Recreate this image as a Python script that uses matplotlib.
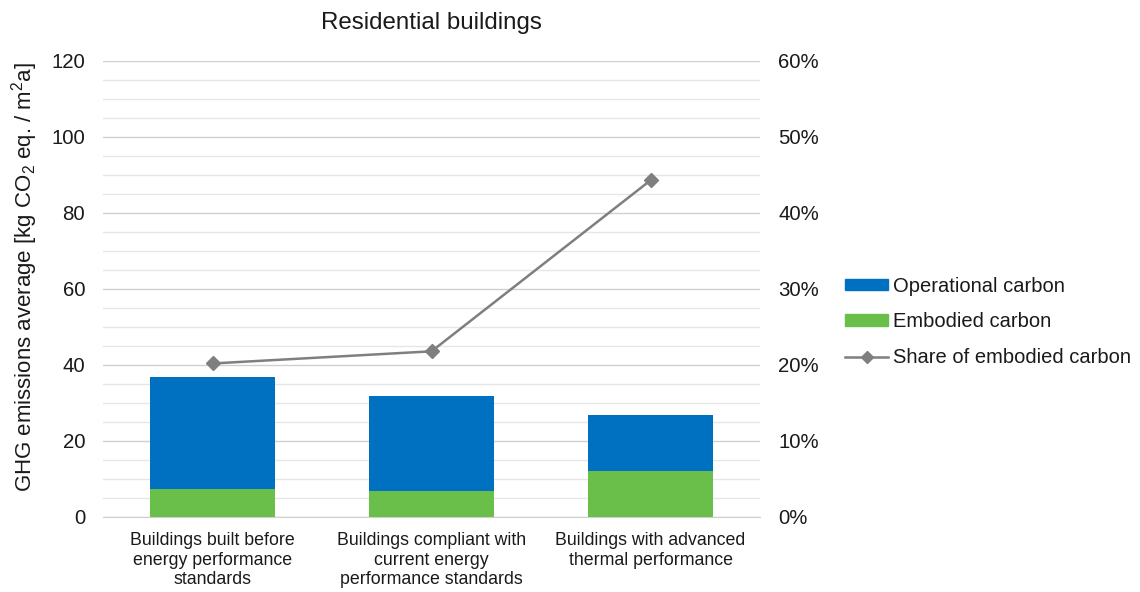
import matplotlib
matplotlib.use("Agg")
import matplotlib.pyplot as plt
from matplotlib.ticker import MultipleLocator, PercentFormatter
from matplotlib.patches import Patch
from matplotlib.lines import Line2D

plt.rcParams["font.family"] = ["Liberation Sans", "DejaVu Sans"]
plt.rcParams["mathtext.fontset"] = "custom"
plt.rcParams["mathtext.rm"] = "Liberation Sans"
plt.rcParams["mathtext.it"] = "Liberation Sans:italic"

categories = [
    "Buildings built before\nenergy performance\nstandards",
    "Buildings compliant with\ncurrent energy\nperformance standards",
    "Buildings with advanced\nthermal performance",
]
embodied = [7.4, 6.8, 12.1]
operational = [29.4, 25.1, 14.7]
share_embodied = [20.2, 21.8, 44.3]  # percent

blue = "#0070C0"
green = "#6ABF4B"
gray = "#7F7F7F"
text_color = "#1A1A1A"

fig = plt.figure(figsize=(11.4, 5.92), dpi=100)
ax = fig.add_axes([0.0904, 0.1267, 0.5763, 0.7703])
ax2 = ax.twinx()

x = list(range(len(categories)))
ax.bar(x, embodied, width=0.57, color=green, zorder=3)
ax.bar(x, operational, width=0.57, bottom=embodied, color=blue, zorder=3)

ax.set_xlim(-0.5, len(categories) - 0.5)
ax.set_ylim(0, 120)
ax.yaxis.set_major_locator(MultipleLocator(20))
ax.yaxis.set_minor_locator(MultipleLocator(5))
ax.grid(axis="y", which="minor", color="#E6E6E6", linewidth=1.0, zorder=0)
ax.grid(axis="y", which="major", color="#D0D0D0", linewidth=1.0, zorder=0)
ax.set_axisbelow(True)

for s in ["top", "right", "left"]:
    ax.spines[s].set_visible(False)
ax.spines["bottom"].set_color("#D0D0D0")
ax.tick_params(axis="both", which="both", length=0, colors=text_color)
ax.tick_params(axis="y", labelsize=14.7, pad=13)
ax.set_xticks(x)
ax.set_xticklabels(categories, fontsize=12.8, linespacing=1.2)
ax.tick_params(axis="x", pad=11)
ax.set_ylabel("GHG emissions average [kg CO$_2$ eq. / m$^2$a]", fontsize=16,
              color=text_color)
ax.yaxis.set_label_coords(-0.0958, 0.526)

ax2.plot(x, share_embodied, color=gray, linewidth=1.8, marker="D", markersize=7, zorder=4)
ax2.set_ylim(0, 60)
ax2.yaxis.set_major_locator(MultipleLocator(10))
ax2.yaxis.set_major_formatter(PercentFormatter(decimals=0))
for s in ["top", "right", "left", "bottom"]:
    ax2.spines[s].set_visible(False)
ax2.tick_params(axis="y", length=0, labelsize=14.7, pad=13, colors=text_color)

ax.set_title("Residential buildings", fontsize=17.4, pad=23, color=text_color)

handles = [
    Patch(facecolor=blue, edgecolor=blue, label="Operational carbon"),
    Patch(facecolor=green, edgecolor=green, label="Embodied carbon"),
    Line2D([0], [0], color=gray, linewidth=1.8, marker="D", markersize=6,
           label="Share of embodied carbon"),
]
fig.legend(handles=handles, loc="center left", bbox_to_anchor=(0.7252, 0.4565),
           frameon=False, fontsize=14.5, handlelength=2.15, handleheight=0.5,
           handletextpad=0.25, labelspacing=0.83, labelcolor=text_color)

fig.savefig("out.png", dpi=100)
